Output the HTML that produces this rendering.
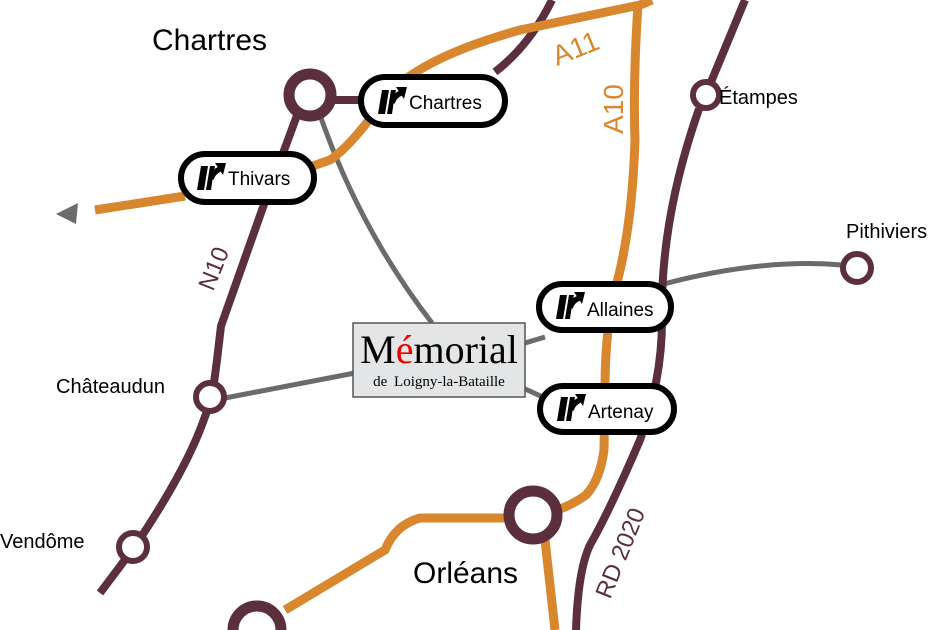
<!DOCTYPE html>
<html><head><meta charset="utf-8"><style>
html,body{margin:0;padding:0;background:#fff;}
svg{display:block;}
text{font-family:"Liberation Sans","DejaVu Sans",sans-serif;}
</style></head><body>
<svg width="940" height="630" viewBox="0 0 940 630" xmlns="http://www.w3.org/2000/svg">
<defs>
<g id="ex">
<polygon points="3,2 10,2 6,26 -1,26" fill="#000"/>
<polygon points="12,2 17,2 15,12 13,26 8,26" fill="#000"/>
<path d="M13,15 Q15,8 22,5" stroke="#000" stroke-width="5.5" fill="none"/>
<polygon points="17,-1 28,-1 25,11" fill="#000"/>
</g>
</defs>
<g stroke="#6b6b6b" stroke-width="5" fill="none">
<path d="M320,115 Q360,230 432,323"/>
<path d="M225,398 L355,373"/>
<path d="M525,343 L545,337"/>
<path d="M523,388 L545,398"/>
<path d="M660,285 Q760,258 842,265"/>
</g>
<g stroke="#5b2f3b" stroke-width="8" fill="none" stroke-linecap="butt">
<path d="M100,593 L133,549 Q180,480 200,430 L212,398 L217,360 L221,326 L262,210 L299,110"/>
<path d="M330,100 L360,100"/>
<path d="M495,72 Q530,45 552,0"/>
<path d="M745,0 L711,82 M699,109 Q660,220 662,320 Q662,380 640,440 Q610,510 590,545 Q578,570 576,630"/>
</g>
<g stroke="#d9872f" stroke-width="9" fill="none">
<path d="M95,210 L185,196 M310,167 L330,160 Q345,150 365,125 L395,88 Q430,55 520,30 L640,5 L652,0"/>
<path d="M638,5 Q633,80 635,140 Q632,230 615,290 Q605,330 605,390 L604,450 Q600,480 586,495 Q572,505 557,510"/>
<path d="M505,518 L420,518 Q395,525 385,550 L285,610"/>
<path d="M545,540 L555,630"/>
</g>
<polygon points="56,214 78,203 76,224" fill="#6b6b6b"/>
<g stroke="#5b2f3b" fill="#fff">
<circle cx="310" cy="95" r="21" stroke-width="11"/>
<circle cx="533" cy="515" r="24" stroke-width="11"/>
<circle cx="257" cy="630" r="24" stroke-width="11"/>
<circle cx="706" cy="95" r="13" stroke-width="6"/>
<circle cx="210" cy="397" r="14" stroke-width="6"/>
<circle cx="133" cy="547" r="14" stroke-width="6"/>
<circle cx="857" cy="268" r="14" stroke-width="6"/>
</g>
<g stroke="#000" stroke-width="6" fill="#fff">
<rect x="361" y="77" width="144" height="48" rx="24"/>
<rect x="181" y="154" width="133" height="48" rx="24"/>
<rect x="539" y="284" width="132" height="46" rx="23"/>
<rect x="540" y="386" width="134" height="46" rx="23"/>
</g>
<use href="#ex" x="379" y="88"/>
<use href="#ex" x="198" y="164"/>
<use href="#ex" x="557" y="293"/>
<use href="#ex" x="558" y="395"/>
<g font-size="19" fill="#000">
<text x="409" y="109">Chartres</text>
<text x="228" y="185">Thivars</text>
<text x="587" y="316">Allaines</text>
<text x="588" y="418">Artenay</text>
</g>
<rect x="353" y="323" width="172" height="74" fill="#e3e5e6" stroke="#555" stroke-width="1.5"/>
<text x="439" y="363" text-anchor="middle" font-size="40" style="font-family:'Liberation Serif',serif">M<tspan fill="#e00">é</tspan>morial</text>
<text x="439" y="386" text-anchor="middle" font-size="15" style="font-family:'Liberation Serif',serif" word-spacing="3">de Loigny-la-Bataille</text>
<g fill="#000">
<text x="152" y="50" font-size="30">Chartres</text>
<text x="413" y="583" font-size="30">Orléans</text>
<text x="719" y="104" font-size="20">Étampes</text>
<text x="846" y="238" font-size="20">Pithiviers</text>
<text x="56" y="393" font-size="20">Châteaudun</text>
<text x="0" y="548" font-size="20">Vendôme</text>
</g>
<g fill="#d9872f" font-size="28">
<text transform="translate(557,66) rotate(-22)">A11</text>
<text transform="translate(623,134) rotate(-90)">A10</text>
</g>
<g fill="#5b2f3b" font-size="24">
<text transform="translate(213,292) rotate(-68)">N10</text>
<text transform="translate(610,600) rotate(-68)">RD 2020</text>
</g>
</svg>
</body></html>
